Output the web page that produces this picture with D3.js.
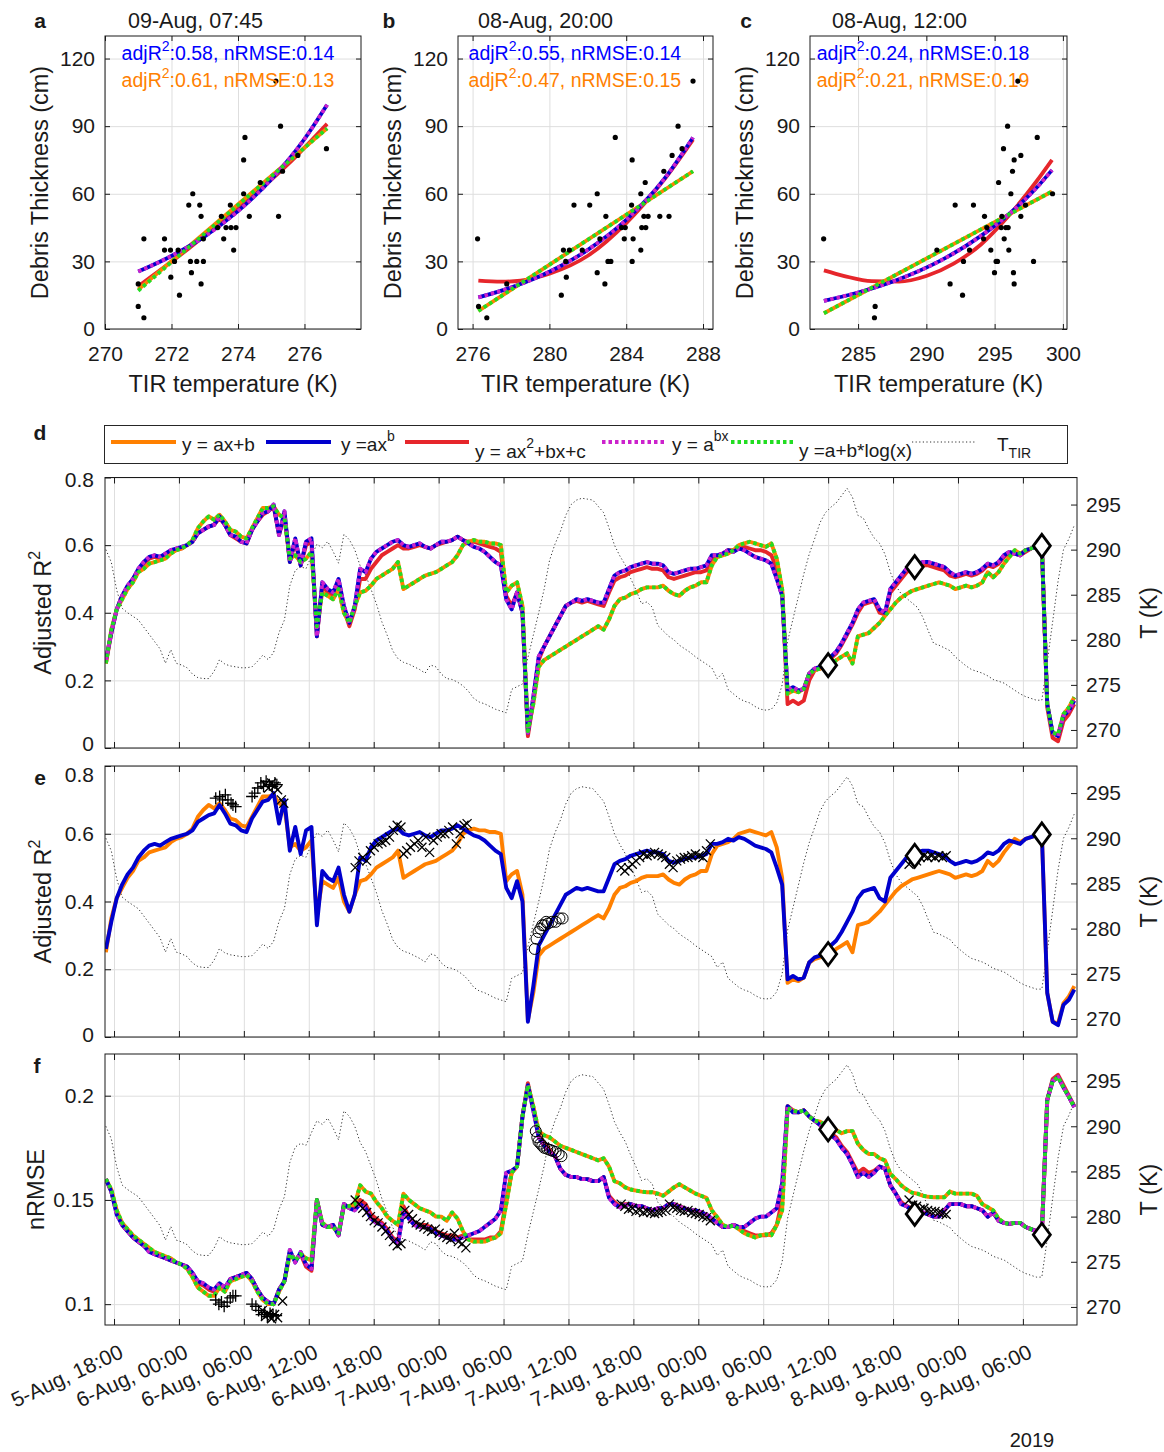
<!DOCTYPE html>
<html><head><meta charset="utf-8">
<script src="https://cdn.jsdelivr.net/npm/d3@7"></script>
<style>
body{margin:0;background:#fff;}
</style></head><body>
<svg id="chart" width="1164" height="1452"></svg>
<script>
// ---------------- DATA ----------------
// scatter panels (TIR temperature K, debris thickness cm)
const aT=[271.0,271.17,271.0,271.17,271.79,271.79,271.97,271.98,272.09,272.24,272.2,272.52,272.64,272.57,272.6,272.76,272.85,272.89,272.89,272.96,272.96,273.39,273.5,273.57,273.64,273.77,273.79,273.87,273.94,274.17,274.17,274.21,274.34,274.67,275.14,275.22,275.28,275.34,275.8,276.66];
const aD=[10,5,20,40,40,35,35,23,30,15,35,55,60,30,25,30,55,50,20,30,40,45,50,40,45,55,45,35,45,60,75,85,50,65,110,50,90,70,77,80];
const bT=[276.26,276.31,276.74,277.78,280.62,280.73,280.85,280.88,281.04,281.28,281.71,282.1,282.49,282.49,282.63,282.89,282.94,283.05,283.2,283.43,283.76,283.9,283.95,284.28,284.31,284.31,284.36,284.76,284.76,284.81,284.92,284.99,285.02,285.14,285.75,285.96,286.23,286.39,286.7,286.91,287.48];
const bD=[40,10,5,20,15,35,30,23,35,55,35,55,60,25,40,20,50,30,30,85,45,40,45,55,75,30,40,60,35,45,50,65,45,50,50,70,50,77,90,80,110];
const cT=[282.48,286.25,286.2,290.77,291.74,292.11,292.65,292.72,293.16,293.45,294.19,294.26,294.43,294.72,294.99,295.11,295.21,295.29,295.48,295.53,295.65,295.7,295.82,295.95,295.99,296.04,296.19,296.31,296.38,296.43,296.43,296.7,296.92,296.92,297.26,297.85,298.12,299.24];
const cD=[40,10,5,35,20,55,15,30,35,55,40,50,45,35,25,30,30,65,45,50,80,40,45,90,45,35,60,70,25,75,20,110,77,50,55,30,85,60];

// fitted curves (x = K, y = cm)
const aPowX=[271.0,272.0,273.0,274.0,275.0,276.0,276.68], aPowY=[25.5,32.4,41.1,52.3,66.4,84.3,99.5];
const aQuadX=[271.0,272.5,274.0,275.5,276.68], aQuadY=[19,35.5,53.5,73,91];
const aLinX=[271.0,276.68], aLinY=[17.5,89];
const aLogX=[271.0,276.68], aLogY=[17,89];
const bPowX=[276.3,278,280,282,284,286,287.48], bPowY=[14,18.4,25.4,35.1,48.4,66.8,85];
const bQuadX=[276.3,277.5,278.5,280,282,284,286,287.48], bQuadY=[21.5,21,21.5,24.5,32.5,47,66.5,84];
const bLinX=[276.3,287.48], bLinY=[8,70];
const cPowX=[282.5,285,288,291,294,296,298,299.2], cPowY=[12.5,16.2,22.1,30.2,41.3,50.7,62.2,70.5];
const cQuadX=[282.5,284,286,288,290,292,294,296,298,299.2], cQuadY=[26,23.5,21.2,21,23.5,29,37.5,50,65,75];
const cLinX=[282.5,299.2], cLinY=[7,61];

const panelTitles=["09-Aug, 07:45","08-Aug, 20:00","08-Aug, 12:00"];
const statsBlue=[["0.58","0.14"],["0.55","0.14"],["0.24","0.18"]];
const statsOrange=[["0.61","0.13"],["0.47","0.15"],["0.21","0.19"]];
const thickTicks=[0,30,60,90,120];
const aXTicks=[270,272,274,276], bXTicks=[276,280,284,288], cXTicks=[285,290,295,300];

// time series: half-hourly from 5-Aug-2019 17:15
const seriesStart=[2019,7,5,17,15];
const dLin=[0.25,0.35,0.41,0.44,0.47,0.49,0.52,0.53,0.545,0.55,
0.555,0.56,0.575,0.585,0.59,0.60,0.615,0.65,0.67,0.685,
0.675,0.69,0.67,0.645,0.64,0.625,0.62,0.65,0.68,0.71,
0.71,0.715,0.69,0.68,0.56,0.57,0.55,0.56,0.58,0.36,
0.46,0.45,0.44,0.47,0.40,0.37,0.42,0.46,0.465,0.48,
0.50,0.51,0.52,0.53,0.55,0.47,0.48,0.49,0.50,0.51,
0.515,0.52,0.53,0.54,0.55,0.57,0.60,0.61,0.615,0.61,
0.61,0.605,0.605,0.60,0.46,0.48,0.49,0.42,0.05,0.13,
0.24,0.26,0.27,0.28,0.29,0.30,0.31,0.32,0.33,0.34,
0.35,0.36,0.35,0.38,0.42,0.44,0.445,0.455,0.46,0.47,
0.475,0.475,0.475,0.48,0.465,0.455,0.45,0.465,0.475,0.48,
0.49,0.49,0.54,0.565,0.57,0.575,0.585,0.60,0.605,0.61,
0.605,0.60,0.595,0.605,0.56,0.47,0.16,0.17,0.165,0.175,
0.22,0.23,0.235,0.24,0.245,0.26,0.27,0.28,0.25,0.33,
0.335,0.34,0.355,0.37,0.39,0.41,0.43,0.445,0.455,0.465,
0.47,0.475,0.48,0.485,0.49,0.485,0.48,0.47,0.475,0.48,
0.475,0.48,0.49,0.52,0.505,0.52,0.545,0.565,0.585,0.575,
0.585,0.59,0.595,0.60,0.13,0.045,0.04,0.10,0.12,0.15];
const dPow=[0.26,0.34,0.41,0.45,0.48,0.50,0.53,0.55,0.565,0.57,
0.565,0.575,0.585,0.59,0.595,0.60,0.61,0.635,0.645,0.655,
0.66,0.685,0.66,0.63,0.625,0.61,0.605,0.645,0.67,0.695,
0.70,0.72,0.63,0.70,0.55,0.62,0.54,0.61,0.62,0.33,
0.49,0.47,0.46,0.50,0.42,0.37,0.42,0.53,0.52,0.56,
0.58,0.59,0.60,0.61,0.615,0.60,0.595,0.60,0.605,0.595,
0.59,0.60,0.61,0.61,0.615,0.625,0.615,0.605,0.595,0.59,
0.58,0.565,0.55,0.54,0.44,0.41,0.46,0.40,0.045,0.15,
0.27,0.30,0.33,0.36,0.39,0.42,0.43,0.44,0.435,0.44,
0.435,0.43,0.43,0.47,0.51,0.52,0.525,0.535,0.54,0.545,
0.55,0.545,0.545,0.54,0.52,0.515,0.52,0.525,0.53,0.53,
0.535,0.54,0.57,0.57,0.575,0.585,0.58,0.59,0.585,0.575,
0.565,0.56,0.555,0.545,0.50,0.45,0.17,0.18,0.17,0.175,
0.22,0.235,0.24,0.25,0.27,0.285,0.31,0.34,0.37,0.41,
0.43,0.435,0.44,0.41,0.40,0.47,0.49,0.51,0.53,0.54,
0.545,0.55,0.55,0.545,0.54,0.535,0.52,0.51,0.515,0.52,
0.515,0.52,0.53,0.545,0.54,0.55,0.57,0.58,0.575,0.57,
0.585,0.59,0.595,0.60,0.13,0.045,0.035,0.095,0.11,0.14];
const dQuad=[0.25,0.34,0.41,0.45,0.475,0.50,0.525,0.545,0.56,0.565,
0.56,0.57,0.58,0.585,0.59,0.60,0.61,0.635,0.645,0.655,
0.66,0.68,0.66,0.63,0.62,0.61,0.605,0.645,0.67,0.69,
0.70,0.715,0.63,0.69,0.55,0.61,0.54,0.60,0.61,0.33,
0.48,0.46,0.45,0.49,0.41,0.36,0.41,0.50,0.50,0.53,
0.55,0.57,0.58,0.59,0.60,0.59,0.59,0.595,0.60,0.595,
0.59,0.60,0.605,0.61,0.615,0.625,0.615,0.61,0.61,0.605,
0.60,0.595,0.59,0.58,0.45,0.42,0.46,0.40,0.035,0.14,
0.26,0.30,0.33,0.36,0.39,0.42,0.43,0.435,0.43,0.435,
0.43,0.425,0.42,0.46,0.495,0.505,0.51,0.52,0.525,0.53,
0.535,0.53,0.53,0.525,0.505,0.50,0.505,0.51,0.515,0.52,
0.52,0.525,0.56,0.565,0.575,0.585,0.585,0.59,0.595,0.59,
0.585,0.585,0.58,0.57,0.53,0.46,0.13,0.14,0.13,0.14,
0.20,0.23,0.235,0.245,0.265,0.28,0.305,0.335,0.365,0.40,
0.425,0.43,0.435,0.40,0.395,0.46,0.48,0.50,0.52,0.53,
0.535,0.54,0.54,0.535,0.53,0.525,0.51,0.505,0.51,0.515,
0.51,0.515,0.525,0.54,0.535,0.545,0.565,0.575,0.575,0.57,
0.58,0.59,0.595,0.60,0.12,0.03,0.02,0.08,0.10,0.13];
const dExp=[0.26,0.34,0.41,0.45,0.48,0.50,0.53,0.55,0.565,0.57,
0.565,0.575,0.585,0.59,0.595,0.60,0.61,0.635,0.645,0.655,
0.66,0.685,0.66,0.63,0.625,0.61,0.605,0.645,0.67,0.695,
0.70,0.72,0.63,0.70,0.55,0.62,0.54,0.61,0.62,0.33,
0.49,0.47,0.46,0.50,0.42,0.37,0.42,0.53,0.52,0.56,
0.58,0.59,0.60,0.61,0.615,0.60,0.595,0.60,0.605,0.595,
0.59,0.60,0.61,0.61,0.615,0.625,0.615,0.605,0.595,0.59,
0.58,0.565,0.55,0.54,0.44,0.41,0.46,0.40,0.045,0.15,
0.27,0.30,0.33,0.36,0.39,0.42,0.43,0.44,0.435,0.44,
0.435,0.43,0.43,0.47,0.51,0.52,0.525,0.535,0.54,0.545,
0.55,0.545,0.545,0.54,0.52,0.515,0.52,0.525,0.53,0.53,
0.535,0.54,0.57,0.57,0.575,0.585,0.58,0.59,0.585,0.575,
0.565,0.56,0.555,0.545,0.50,0.45,0.17,0.18,0.17,0.175,
0.22,0.235,0.24,0.25,0.27,0.285,0.31,0.34,0.37,0.41,
0.43,0.435,0.44,0.41,0.40,0.47,0.49,0.51,0.53,0.54,
0.545,0.55,0.55,0.545,0.54,0.535,0.52,0.51,0.515,0.52,
0.515,0.52,0.53,0.545,0.54,0.55,0.57,0.58,0.575,0.57,
0.585,0.59,0.595,0.60,0.13,0.045,0.035,0.095,0.11,0.14];
const dLog=[0.25,0.35,0.41,0.44,0.47,0.49,0.52,0.53,0.545,0.55,
0.555,0.56,0.575,0.585,0.59,0.60,0.615,0.65,0.67,0.685,
0.675,0.69,0.67,0.645,0.64,0.625,0.62,0.65,0.68,0.71,
0.71,0.715,0.69,0.68,0.56,0.57,0.55,0.56,0.58,0.36,
0.46,0.45,0.44,0.47,0.40,0.37,0.42,0.46,0.465,0.48,
0.50,0.51,0.52,0.53,0.55,0.47,0.48,0.49,0.50,0.51,
0.515,0.52,0.53,0.54,0.55,0.57,0.60,0.61,0.615,0.61,
0.61,0.605,0.605,0.60,0.46,0.48,0.49,0.42,0.05,0.13,
0.24,0.26,0.27,0.28,0.29,0.30,0.31,0.32,0.33,0.34,
0.35,0.36,0.35,0.38,0.42,0.44,0.445,0.455,0.46,0.47,
0.475,0.475,0.475,0.48,0.465,0.455,0.45,0.465,0.475,0.48,
0.49,0.49,0.54,0.565,0.57,0.575,0.585,0.60,0.605,0.61,
0.605,0.60,0.595,0.605,0.56,0.47,0.16,0.17,0.165,0.175,
0.22,0.23,0.235,0.24,0.245,0.26,0.27,0.28,0.25,0.33,
0.335,0.34,0.355,0.37,0.39,0.41,0.43,0.445,0.455,0.465,
0.47,0.475,0.48,0.485,0.49,0.485,0.48,0.47,0.475,0.48,
0.475,0.48,0.49,0.52,0.505,0.52,0.545,0.565,0.585,0.575,
0.585,0.59,0.595,0.60,0.13,0.045,0.04,0.10,0.12,0.15];
const tTIR=[290.0,288.6,285.5,283.5,283.0,282.6,282.2,281.4,280.6,279.8,
279.0,277.4,278.9,277.4,277.2,276.9,276.2,275.8,275.7,275.7,
276.5,277.8,277.3,277.1,277.0,276.9,276.9,277.0,277.6,278.3,
277.8,278.6,280.8,282.2,286.0,287.7,288.1,287.9,289.3,290.6,
290.2,290.9,289.8,288.5,291.7,291.1,290.0,288.2,287.2,285.6,
284.0,282.0,280.5,278.8,277.9,277.5,277.3,277.0,276.7,276.3,
277.2,277.0,276.2,275.7,275.6,275.3,274.9,274.3,273.5,273.1,
272.9,272.6,272.3,272.1,271.9,274.5,274.8,275.1,278.0,280.5,
283.0,285.6,288.8,290.6,292.0,293.8,295.0,295.5,295.7,295.6,
295.5,294.8,294.1,292.4,290.5,289.3,288.3,286.8,285.5,284.0,
284.2,283.6,281.6,281.0,280.4,280.0,279.4,279.0,278.6,278.1,
277.7,277.3,276.9,275.7,276.3,274.5,274.0,273.5,273.2,273.0,
272.6,272.3,272.2,272.3,273.0,275.0,279.8,282.3,284.8,287.3,
289.5,291.2,293.0,294.1,294.7,295.2,296.0,296.8,295.8,293.8,
293.5,292.3,291.3,290.7,289.5,287.5,286.0,285.1,284.6,284.1,
283.6,282.5,281.0,279.6,279.4,279.1,278.8,278.1,277.6,277.1,
276.7,276.5,276.3,276.0,275.6,275.4,275.2,274.8,274.4,274.0,
273.7,273.5,273.3,273.3,277.5,282.0,286.5,290.0,291.2,292.7];
const fLin=[0.160,0.155,0.145,0.139,0.136,0.133,0.131,0.129,0.127,0.125,
0.124,0.123,0.122,0.120,0.119,0.117,0.113,0.108,0.106,0.104,
0.104,0.108,0.106,0.111,0.112,0.113,0.114,0.111,0.106,0.102,
0.100,0.100,0.106,0.111,0.124,0.121,0.124,0.122,0.121,0.150,
0.139,0.137,0.137,0.134,0.147,0.147,0.148,0.157,0.154,0.153,
0.149,0.146,0.142,0.140,0.138,0.153,0.150,0.148,0.146,0.145,
0.144,0.142,0.142,0.140,0.144,0.141,0.135,0.131,0.130,0.130,
0.130,0.131,0.132,0.134,0.148,0.163,0.166,0.190,0.205,0.195,
0.183,0.181,0.180,0.178,0.176,0.175,0.174,0.173,0.172,0.171,
0.170,0.169,0.170,0.166,0.159,0.158,0.156,0.155,0.1545,0.154,
0.1537,0.1537,0.153,0.152,0.154,0.156,0.1575,0.156,0.1545,0.153,
0.152,0.151,0.145,0.1417,0.138,0.137,0.1377,0.136,0.134,0.133,
0.132,0.133,0.1335,0.133,0.138,0.145,0.194,0.193,0.192,0.193,
0.190,0.188,0.1875,0.186,0.1855,0.1835,0.182,0.183,0.183,0.177,
0.174,0.172,0.172,0.170,0.169,0.1625,0.160,0.157,0.155,0.1535,
0.153,0.152,0.1515,0.1513,0.1513,0.1513,0.154,0.153,0.153,0.153,
0.153,0.152,0.148,0.1465,0.145,0.141,0.139,0.1385,0.139,0.139,
0.137,0.136,0.135,0.134,0.198,0.207,0.209,0.204,0.1995,0.1945];
const fPow=[0.160,0.154,0.143,0.138,0.135,0.132,0.130,0.128,0.125,0.124,
0.123,0.122,0.121,0.120,0.119,0.118,0.115,0.111,0.110,0.108,
0.107,0.110,0.108,0.112,0.113,0.114,0.115,0.112,0.107,0.103,
0.101,0.100,0.107,0.111,0.126,0.120,0.125,0.119,0.117,0.150,
0.138,0.137,0.138,0.133,0.148,0.146,0.145,0.148,0.146,0.141,
0.139,0.138,0.135,0.131,0.129,0.145,0.141,0.138,0.137,0.137,
0.136,0.134,0.133,0.132,0.131,0.131,0.132,0.133,0.134,0.135,
0.137,0.139,0.141,0.145,0.163,0.164,0.166,0.190,0.205,0.193,
0.180,0.176,0.173,0.171,0.165,0.162,0.161,0.161,0.160,0.160,
0.159,0.159,0.161,0.151,0.148,0.1465,0.1475,0.148,0.147,0.147,
0.146,0.145,0.146,0.146,0.148,0.148,0.1465,0.146,0.145,0.145,
0.144,0.143,0.141,0.139,0.137,0.137,0.138,0.137,0.137,0.139,
0.141,0.142,0.142,0.144,0.146,0.158,0.195,0.192,0.192,0.193,
0.190,0.188,0.186,0.184,0.181,0.179,0.175,0.172,0.167,0.161,
0.163,0.161,0.163,0.166,0.165,0.157,0.153,0.148,0.147,0.145,
0.145,0.144,0.143,0.142,0.142,0.145,0.148,0.148,0.148,0.147,
0.147,0.146,0.145,0.142,0.144,0.140,0.139,0.1385,0.139,0.139,
0.137,0.136,0.135,0.134,0.198,0.207,0.209,0.204,0.1995,0.1945];
const fQuad=[0.160,0.154,0.144,0.138,0.135,0.132,0.130,0.128,0.126,0.124,
0.123,0.122,0.121,0.120,0.119,0.118,0.114,0.110,0.109,0.107,
0.106,0.109,0.107,0.112,0.113,0.114,0.115,0.112,0.107,0.103,
0.101,0.100,0.107,0.111,0.125,0.121,0.124,0.118,0.116,0.150,
0.138,0.137,0.138,0.133,0.148,0.146,0.146,0.150,0.148,0.143,
0.141,0.139,0.136,0.132,0.130,0.147,0.142,0.139,0.138,0.138,
0.137,0.135,0.134,0.133,0.133,0.132,0.133,0.131,0.131,0.131,
0.131,0.132,0.132,0.135,0.150,0.163,0.166,0.190,0.206,0.194,
0.181,0.177,0.174,0.171,0.165,0.162,0.161,0.161,0.160,0.160,
0.159,0.159,0.161,0.152,0.149,0.147,0.148,0.148,0.147,0.147,
0.146,0.145,0.146,0.146,0.148,0.148,0.147,0.146,0.145,0.145,
0.144,0.143,0.141,0.139,0.137,0.137,0.138,0.137,0.135,0.134,
0.133,0.133,0.133,0.134,0.138,0.150,0.195,0.193,0.192,0.193,
0.190,0.188,0.186,0.184,0.182,0.180,0.176,0.173,0.168,0.163,
0.165,0.163,0.164,0.166,0.165,0.157,0.153,0.149,0.147,0.146,
0.145,0.144,0.143,0.142,0.142,0.145,0.148,0.148,0.148,0.147,
0.147,0.146,0.145,0.142,0.144,0.140,0.139,0.1385,0.139,0.139,
0.137,0.136,0.135,0.134,0.198,0.208,0.210,0.205,0.200,0.195];
const fExp=[0.160,0.154,0.143,0.138,0.135,0.132,0.130,0.128,0.125,0.124,
0.123,0.122,0.121,0.120,0.119,0.118,0.115,0.111,0.110,0.108,
0.107,0.110,0.108,0.112,0.113,0.114,0.115,0.112,0.107,0.103,
0.101,0.100,0.107,0.111,0.126,0.120,0.125,0.119,0.117,0.150,
0.138,0.137,0.138,0.133,0.148,0.146,0.145,0.148,0.146,0.141,
0.139,0.138,0.135,0.131,0.129,0.145,0.141,0.138,0.137,0.137,
0.136,0.134,0.133,0.132,0.131,0.131,0.132,0.133,0.134,0.135,
0.137,0.139,0.141,0.145,0.163,0.164,0.166,0.190,0.205,0.193,
0.180,0.176,0.173,0.171,0.165,0.162,0.161,0.161,0.160,0.160,
0.159,0.159,0.161,0.151,0.148,0.1465,0.1475,0.148,0.147,0.147,
0.146,0.145,0.146,0.146,0.148,0.148,0.1465,0.146,0.145,0.145,
0.144,0.143,0.141,0.139,0.137,0.137,0.138,0.137,0.137,0.139,
0.141,0.142,0.142,0.144,0.146,0.158,0.195,0.192,0.192,0.193,
0.190,0.188,0.186,0.184,0.181,0.179,0.175,0.172,0.167,0.161,
0.163,0.161,0.163,0.166,0.165,0.157,0.153,0.148,0.147,0.145,
0.145,0.144,0.143,0.142,0.142,0.145,0.148,0.148,0.148,0.147,
0.147,0.146,0.145,0.142,0.144,0.140,0.139,0.1385,0.139,0.139,
0.137,0.136,0.135,0.134,0.198,0.207,0.209,0.204,0.1995,0.1945];
const fLog=[0.160,0.155,0.145,0.139,0.136,0.133,0.131,0.129,0.127,0.125,
0.124,0.123,0.122,0.120,0.119,0.117,0.113,0.108,0.106,0.104,
0.104,0.108,0.106,0.111,0.112,0.113,0.114,0.111,0.106,0.102,
0.100,0.100,0.106,0.111,0.124,0.121,0.124,0.122,0.121,0.150,
0.139,0.137,0.137,0.134,0.147,0.147,0.148,0.157,0.154,0.153,
0.149,0.146,0.142,0.140,0.138,0.153,0.150,0.148,0.146,0.145,
0.144,0.142,0.142,0.140,0.144,0.141,0.135,0.131,0.130,0.130,
0.130,0.131,0.132,0.134,0.148,0.163,0.166,0.190,0.205,0.195,
0.183,0.181,0.180,0.178,0.176,0.175,0.174,0.173,0.172,0.171,
0.170,0.169,0.170,0.166,0.159,0.158,0.156,0.155,0.1545,0.154,
0.1537,0.1537,0.153,0.152,0.154,0.156,0.1575,0.156,0.1545,0.153,
0.152,0.151,0.145,0.1417,0.138,0.137,0.1377,0.136,0.134,0.133,
0.132,0.133,0.1335,0.133,0.138,0.145,0.194,0.193,0.192,0.193,
0.190,0.188,0.1875,0.186,0.1855,0.1835,0.182,0.183,0.183,0.177,
0.174,0.172,0.172,0.170,0.169,0.1625,0.160,0.157,0.155,0.1535,
0.153,0.152,0.1515,0.1513,0.1513,0.1513,0.154,0.153,0.153,0.153,
0.153,0.152,0.148,0.1465,0.145,0.141,0.139,0.1385,0.139,0.139,
0.137,0.136,0.135,0.134,0.198,0.207,0.209,0.204,0.1995,0.1945];

// markers: hours since 5-Aug-2019 00:00
const diamondH=[84,92,103.75];
const diamondR2=[0.245,0.535,0.598];
const diamondRMSE=[0.1838,0.1433,0.1333];
const ePlusH=[27.40,27.76,28.04,28.29,28.53,28.82,28.99,29.24,30.76,31.0,31.29,31.57,31.82,32.06,32.35,32.63,32.87,33.05];
const ePlusV=[0.705,0.71,0.70,0.715,0.70,0.69,0.685,0.68,0.71,0.72,0.735,0.75,0.74,0.755,0.745,0.74,0.75,0.745];
const eCrossH=[31.99,32.27,32.56,32.84,33.12,33.47,33.69,
40.29,40.64,40.99,41.35,41.70,42.05,42.41,42.76,43.11,43.46,43.82,44.17,44.52,44.77,45.05,45.40,45.76,46.11,46.46,46.82,47.17,47.52,47.88,48.23,48.58,48.94,49.29,49.64,49.99,50.35,50.63,
64.87,65.21,65.55,65.90,66.24,66.58,66.93,67.27,67.61,67.96,68.30,68.64,68.99,69.33,69.67,70.01,70.36,70.70,71.05,71.39,71.73,72.08,72.42,72.76,73.11,
91.48,91.82,92.17,92.51,92.86,93.20,93.54,93.88,94.23,94.57,94.91];
const eCrossV=[0.745,0.735,0.75,0.74,0.73,0.70,0.69,
0.50,0.52,0.53,0.52,0.55,0.56,0.57,0.575,0.58,0.59,0.61,0.625,0.62,0.54,0.55,0.56,0.57,0.58,0.56,0.59,0.545,0.58,0.59,0.60,0.60,0.61,0.62,0.57,0.60,0.625,0.63,
0.50,0.49,0.50,0.51,0.52,0.53,0.54,0.535,0.54,0.545,0.54,0.535,0.53,0.51,0.50,0.52,0.525,0.53,0.53,0.535,0.54,0.535,0.53,0.55,0.57,
0.51,0.525,0.52,0.53,0.535,0.53,0.535,0.53,0.535,0.53,0.535];
const eCircH=[56.88,57.05,57.23,57.41,57.58,57.76,57.94,58.11,58.47,58.82,59.17,59.46];
const eCircV=[0.26,0.29,0.31,0.32,0.33,0.33,0.34,0.335,0.34,0.34,0.35,0.35];
const fPlusH=[27.40,27.69,27.93,28.18,28.46,28.74,28.99,29.24,30.76,31.11,31.36,31.64,31.92,32.17,32.42,32.70,32.98];
const fPlusV=[0.102,0.100,0.101,0.099,0.101,0.103,0.104,0.104,0.100,0.099,0.097,0.095,0.096,0.094,0.0955,0.095,0.0945];
const fCrossH=[31.71,31.99,32.27,32.56,32.84,33.12,33.58,
40.29,40.64,40.99,41.35,41.70,42.05,42.41,42.76,43.11,43.46,43.82,44.17,44.52,44.88,45.23,45.58,45.93,46.29,46.64,46.99,47.35,47.70,48.05,48.41,48.76,49.11,49.46,49.82,50.17,50.52,
64.87,65.21,65.55,65.90,66.24,66.58,66.93,67.27,67.61,67.96,68.30,68.64,68.99,69.33,69.67,70.01,70.36,70.70,71.05,71.39,71.73,72.08,72.42,72.76,73.11,
91.48,91.82,92.17,92.51,92.86,93.20,93.54,93.88,94.23,94.57,94.91];
const fCrossV=[0.097,0.094,0.0955,0.093,0.095,0.0935,0.1015,
0.150,0.148,0.146,0.144,0.142,0.140,0.139,0.137,0.135,0.133,0.130,0.128,0.129,0.145,0.143,0.141,0.139,0.138,0.137,0.136,0.135,0.136,0.134,0.133,0.132,0.131,0.134,0.130,0.129,0.127,
0.148,0.147,0.1455,0.146,0.1445,0.145,0.144,0.1445,0.144,0.1435,0.144,0.1445,0.145,0.148,0.1465,0.146,0.145,0.1445,0.145,0.144,0.1435,0.143,0.142,0.1415,0.140,
0.150,0.1475,0.147,0.1455,0.146,0.145,0.1445,0.1445,0.144,0.1435,0.143];
const fCircH=[56.98,57.12,57.23,57.41,57.58,57.76,58.04,58.29,58.54,58.82,59.10,59.35];
const fCircV=[0.183,0.180,0.178,0.177,0.176,0.175,0.1745,0.174,0.1735,0.173,0.172,0.171];

const r2Ticks=[0,0.2,0.4,0.6,0.8], rmseTicks=[0.1,0.15,0.2], tempTicks=[270,275,280,285,290,295];
const legendLabels=["y = ax+b","y =ax","y = ax","y = a","y =a+b*log(x)","T"];

// ---------------- DRAWING ----------------
const FONT='"Liberation Sans", Arial, Helvetica, sans-serif';
const COL={lin:'#ff8000',pow:'#0000cd',quad:'#e6262b',exp:'#cc22cc',log:'#22dd22',text:'#1a1a1a',grid:'#dedede'};
const svg=d3.select('#chart').attr('font-family',FONT);
svg.append('rect').attr('width',1164).attr('height',1452).attr('fill','#fff');

function axStyle(s,fs){
  s.attr('font-family',FONT).attr('font-size',fs||21);
  s.select('.domain').remove();
  s.selectAll('.tick line').attr('stroke',COL.text);
  s.selectAll('.tick text').attr('fill',COL.text);
}
function gridStyle(s){
  s.select('.domain').remove();
  s.selectAll('.tick line').attr('stroke',COL.grid).attr('stroke-width',1);
  s.selectAll('.tick text').remove();
}
const zip=(xs,ys)=>xs.map((v,i)=>[v,ys[i]]);

// ---------- scatter panels ----------
const scat=[
 {left:105,right:361,xdom:[270,277.7],xt:aXTicks,T:aT,D:aD,
  curves:[['quad',aQuadX,aQuadY],['lin',aLinX,aLinY],['pow',aPowX,aPowY],['exp',aPowX,aPowY],['log',aLogX,aLogY]],
  letterX:40,titleX:128,ylabX:48,statX:270.5},
 {left:458,right:713,xdom:[275.24,288.52],xt:bXTicks,T:bT,D:bD,
  curves:[['quad',bQuadX,bQuadY],['lin',bLinX,bLinY],['pow',bPowX,bPowY],['exp',bPowX,bPowY],['log',bLinX,bLinY]],
  letterX:389,titleX:478,ylabX:401,statX:275.79},
 {left:810,right:1067,xdom:[281.48,300.3],xt:cXTicks,T:cT,D:cD,
  curves:[['quad',cQuadX,cQuadY],['lin',cLinX,cLinY],['pow',cPowX,cPowY],['exp',cPowX,cPowY],['log',cLinX,cLinY]],
  letterX:746,titleX:832,ylabX:753,statX:281.97}
];
const sTop=36,sBot=329;
const yThick=d3.scaleLinear([0,130],[sBot,sTop]);
scat.forEach((p,k)=>{
  const g=svg.append('g');
  const x=d3.scaleLinear(p.xdom,[p.left,p.right]);
  const w=p.right-p.left,h=sBot-sTop;
  g.append('g').attr('transform',`translate(0,${sBot})`).call(d3.axisBottom(x).tickValues(p.xt).tickSize(-h)).call(gridStyle);
  g.append('g').attr('transform',`translate(${p.left},0)`).call(d3.axisLeft(yThick).tickValues(thickTicks).tickSize(-w)).call(gridStyle);
  const line=d3.line().x(d=>x(d[0])).y(d=>yThick(d[1])).curve(d3.curveMonotoneX);
  p.curves.forEach(([m,xs,ys])=>{
    const path=g.append('path').attr('d',line(zip(xs,ys))).attr('fill','none').attr('stroke',COL[m]).attr('stroke-width',3.8);
    if(m==='exp'||m==='log') path.attr('stroke-dasharray','3.5,3');
  });
  g.selectAll('circle.pt').data(zip(p.T,p.D)).join('circle').attr('class','pt')
    .attr('cx',d=>x(d[0])).attr('cy',d=>yThick(d[1])).attr('r',2.6).attr('fill','#000');
  g.append('g').attr('transform',`translate(0,${sBot})`).call(d3.axisBottom(x).tickValues(p.xt).tickSizeInner(-5).tickSizeOuter(0).tickPadding(17)).call(axStyle);
  g.append('g').attr('transform',`translate(0,${sTop})`).call(d3.axisTop(x).tickValues(p.xt).tickSizeInner(-5).tickSizeOuter(0).tickFormat('')).call(axStyle);
  g.append('g').attr('transform',`translate(${p.left},0)`).call(d3.axisLeft(yThick).tickValues(thickTicks).tickSizeInner(-5).tickSizeOuter(0).tickPadding(10)).call(axStyle);
  g.append('g').attr('transform',`translate(${p.right},0)`).call(d3.axisRight(yThick).tickValues(thickTicks).tickSizeInner(-5).tickSizeOuter(0).tickFormat('')).call(axStyle);
  g.append('rect').attr('x',p.left).attr('y',sTop).attr('width',w).attr('height',h).attr('fill','none').attr('stroke',COL.text).attr('stroke-width',1);
  g.append('text').attr('x',p.letterX).attr('y',28).attr('text-anchor','middle').attr('font-weight','bold').attr('font-size',21).attr('fill',COL.text).text(String.fromCharCode(97+k));
  g.append('text').attr('x',p.titleX).attr('y',28).attr('font-size',21.5).attr('fill',COL.text).text(panelTitles[k]);
  g.append('text').attr('transform',`translate(${p.ylabX},${(sTop+sBot)/2}) rotate(-90)`).attr('text-anchor','middle').attr('font-size',23.5).attr('fill',COL.text).text('Debris Thickness (cm)');
  g.append('text').attr('x',(p.left+p.right)/2).attr('y',392).attr('text-anchor','middle').attr('font-size',23.5).attr('fill',COL.text).text('TIR temperature (K)');
  [[statsBlue[k],'#0000ff',60],[statsOrange[k],'#ff8000',87]].forEach(([st,c,yy])=>{
    const t=g.append('text').attr('x',x(p.statX)).attr('y',yy).attr('font-size',19.5).attr('fill',c);
    t.append('tspan').text('adjR');
    t.append('tspan').attr('font-size',14).attr('dy',-9).text('2');
    t.append('tspan').attr('dy',9).text(`:${st[0]}, nRMSE:${st[1]}`);
  });
});

// ---------- time panels ----------
const t0=new Date(...seriesStart);
const times=dLin.map((_,i)=>new Date(+t0+i*1800e3));
const base=new Date(2019,7,5,0,0);
const hT=h=>new Date(+base+h*3600e3);
const xTime=d3.scaleTime([new Date(2019,7,5,17,10),new Date(2019,7,9,11,0)],[105,1077]);
const xTicks=xTime.ticks(d3.timeHour.every(6));
const L=105,R=1077;

const markerPaths={
  plus:'M-6,0H6M0,-6V6',
  cross:'M-4.5,-4.5L4.5,4.5M-4.5,4.5L4.5,-4.5',
  diamond:'M0,-11.5L8.5,0L0,11.5L-8.5,0Z'
};

function timePanel(p){
  const g=svg.append('g');
  const y=d3.scaleLinear(p.ydom,[p.bot,p.top]);
  const yT=d3.scaleLinear([268,298],[p.bot,p.top]);
  const h=p.bot-p.top;
  const cid='clip'+p.letter;
  svg.append('clipPath').attr('id',cid).append('rect').attr('x',L).attr('y',p.top).attr('width',R-L).attr('height',h);
  g.append('g').attr('transform',`translate(0,${p.bot})`).call(d3.axisBottom(xTime).tickValues(xTicks).tickSize(-h)).call(gridStyle);
  g.append('g').attr('transform',`translate(${L},0)`).call(d3.axisLeft(y).tickValues(p.yt).tickSize(-(R-L))).call(gridStyle);
  const cg=g.append('g').attr('clip-path',`url(#${cid})`);
  cg.append('path').attr('d',d3.line().x((d,i)=>xTime(times[i])).y(d=>yT(d))(tTIR))
    .attr('fill','none').attr('stroke','#333').attr('stroke-width',1).attr('stroke-dasharray','1.2,2.4');
  const line=d3.line().x((d,i)=>xTime(times[i])).y(d=>y(d));
  p.series.forEach(([m,arr])=>{
    const path=cg.append('path').attr('d',line(arr)).attr('fill','none').attr('stroke',COL[m]).attr('stroke-width',3.9).attr('stroke-linejoin','round');
    if(m==='exp'||m==='log') path.attr('stroke-dasharray','3.5,3');
  });
  p.markers.forEach(([type,hs,vs])=>{
    hs.forEach((hh,i)=>{
      const tx=`translate(${xTime(hT(hh))},${y(vs[i])})`;
      if(type==='circle') g.append('circle').attr('transform',tx).attr('r',5.5).attr('fill','none').attr('stroke','#000').attr('stroke-width',1);
      else if(type==='diamond') g.append('path').attr('transform',tx).attr('d',markerPaths.diamond).attr('fill','#fff').attr('stroke','#000').attr('stroke-width',2.8);
      else g.append('path').attr('transform',tx).attr('d',markerPaths[type]).attr('fill','none').attr('stroke','#000').attr('stroke-width',1.3);
    });
  });
  g.append('g').attr('transform',`translate(0,${p.bot})`).call(d3.axisBottom(xTime).tickValues(xTicks).tickSizeInner(-6).tickSizeOuter(0).tickFormat('')).call(axStyle);
  g.append('g').attr('transform',`translate(0,${p.top})`).call(d3.axisTop(xTime).tickValues(xTicks).tickSizeInner(-6).tickSizeOuter(0).tickFormat('')).call(axStyle);
  const la=g.append('g').attr('transform',`translate(${L},0)`).call(d3.axisLeft(y).tickValues(p.yt).tickSizeInner(-6).tickSizeOuter(0).tickPadding(11).tickFormat(d=>String(d))).call(axStyle);
  // keep the end labels inside the panel edges, as in the reference
  la.selectAll('.tick text').attr('transform',d=>d===p.yt[p.yt.length-1]?`translate(0,${p.topShift||0})`:(d===p.yt[0]?`translate(0,${p.botShift||0})`:null));
  g.append('g').attr('transform',`translate(${R},0)`).call(d3.axisRight(yT).tickValues(tempTicks).tickSizeInner(-6).tickSizeOuter(0).tickPadding(9)).call(axStyle);
  g.append('rect').attr('x',L).attr('y',p.top).attr('width',R-L).attr('height',h).attr('fill','none').attr('stroke',COL.text).attr('stroke-width',1);
  g.append('text').attr('x',p.letterX).attr('y',p.letterY).attr('text-anchor','middle').attr('font-weight','bold').attr('font-size',21).attr('fill',COL.text).text(p.letter);
  const yl=g.append('text').attr('transform',`translate(${p.ylabX},${(p.top+p.bot)/2}) rotate(-90)`).attr('text-anchor','middle').attr('font-size',23.5).attr('fill',COL.text);
  if(p.ylab==='r2'){ yl.append('tspan').text('Adjusted R'); yl.append('tspan').attr('font-size',16).attr('dy',-11).text('2'); }
  else yl.text('nRMSE');
  g.append('text').attr('transform',`translate(1157,${(p.top+p.bot)/2}) rotate(-90)`).attr('text-anchor','middle').attr('font-size',23.5).attr('fill',COL.text).text('T (K)');
  return g;
}

const fmt=d3.timeFormat('%-d-%b, %H:%M');
timePanel({letter:'d',letterX:40,letterY:440,top:477.5,bot:748,ydom:[0,0.8],yt:r2Ticks,ylab:'r2',ylabX:51,topShift:2,botShift:-4,
  series:[['quad',dQuad],['lin',dLin],['pow',dPow],['exp',dExp],['log',dLog]],
  markers:[['diamond',diamondH,diamondR2]]});
timePanel({letter:'e',letterX:40,letterY:785,top:766,bot:1037,ydom:[0,0.8],yt:r2Ticks,ylab:'r2',ylabX:51,topShift:9,botShift:-2,
  series:[['lin',dLin],['pow',dPow]],
  markers:[['plus',ePlusH,ePlusV],['cross',eCrossH,eCrossV],['circle',eCircH,eCircV],['diamond',diamondH,diamondR2]]});
const gf=timePanel({letter:'f',letterX:37,letterY:1073,top:1054,bot:1325,ydom:[0.09,0.22],yt:rmseTicks,ylab:'rmse',ylabX:44,
  series:[['quad',fQuad],['lin',fLin],['pow',fPow],['exp',fExp],['log',fLog]],
  markers:[['plus',fPlusH,fPlusV],['cross',fCrossH,fCrossV],['circle',fCircH,fCircV],['diamond',diamondH,diamondRMSE]]});
gf.selectAll('text.dl').data(xTicks).join('text').attr('class','dl')
  .attr('transform',d=>`translate(${xTime(d)+10.5},1357) rotate(-25)`)
  .attr('text-anchor','end').attr('font-size',21).attr('fill',COL.text).text(d=>fmt(d));
svg.append('text').attr('x',1032).attr('y',1447).attr('text-anchor','middle').attr('font-size',20).attr('fill',COL.text).text('2019');

// ---------- legend ----------
const lg=svg.append('g');
lg.append('rect').attr('x',104.5).attr('y',425.5).attr('width',963).attr('height',38).attr('fill','#fff').attr('stroke','#262626').attr('stroke-width',1);
const legItems=[
  {m:'lin',x1:111,x2:176,tx:182,ty:451},
  {m:'pow',x1:266,x2:331,tx:341,ty:451,sup:'b'},
  {m:'quad',x1:405,x2:469,tx:475,ty:458,sup:'2',after:'+bx+c'},
  {m:'exp',x1:602,x2:666,tx:672,ty:451,sup:'bx'},
  {m:'log',x1:731,x2:795,tx:799,ty:457},
  {m:'T',x1:912,x2:975,tx:997,ty:451,sub:'TIR'}
];
legItems.forEach((it,i)=>{
  const ln=lg.append('line').attr('x1',it.x1).attr('x2',it.x2).attr('y1',442).attr('y2',442);
  if(it.m==='T') ln.attr('stroke','#333').attr('stroke-width',1).attr('stroke-dasharray','1.2,2.4');
  else { ln.attr('stroke',COL[it.m]).attr('stroke-width',4); if(it.m==='exp'||it.m==='log') ln.attr('stroke-dasharray','3.5,3'); }
  const t=lg.append('text').attr('x',it.tx).attr('y',it.ty).attr('font-size',19).attr('fill',COL.text);
  t.append('tspan').text(legendLabels[i]);
  if(it.sup){ t.append('tspan').attr('font-size',14).attr('dy',-10).text(it.sup); if(it.after) t.append('tspan').attr('font-size',19).attr('dy',10).text(it.after); }
  if(it.sub){ t.append('tspan').attr('font-size',14).attr('dy',7).text(it.sub); }
});
</script></body></html>
